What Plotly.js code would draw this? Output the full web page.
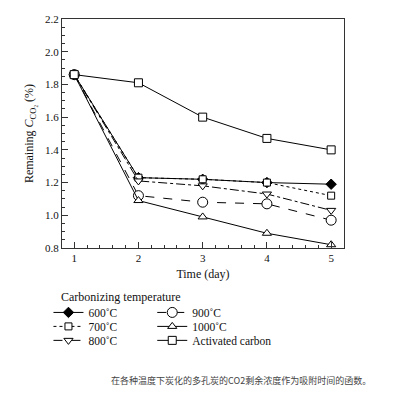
<!DOCTYPE html>
<html>
<head>
<meta charset="utf-8">
<script src="https://cdn.plot.ly/plotly-3.0.1.min.js"></script>
<style>html,body{margin:0;padding:0;background:#fff;}#chart{width:400px;height:394px;}</style>
</head>
<body>
<div id="chart"></div>
<script>
const days = [1, 2, 3, 4, 5];
const c600 = [1.86, 1.23, 1.22, 1.20, 1.19];
const c700 = [1.86, 1.23, 1.22, 1.20, 1.12];
const c800 = [1.86, 1.21, 1.18, 1.13, 1.03];
const c900 = [1.86, 1.12, 1.08, 1.07, 0.97];
const c1000 = [1.86, 1.09, 0.99, 0.89, 0.82];
const activated = [1.86, 1.81, 1.60, 1.47, 1.40];
const names = ['600˚C', '700˚C', '800˚C', '900˚C', '1000˚C', 'Activated carbon'];

const open = {color: '#fff', line: {color: '#000', width: 1}};
const traces = [
  {y: c600, name: names[0], legend: 'legend', line: {color: '#000', width: 1, dash: 'solid'},
   marker: {symbol: 'diamond', size: 8, color: '#000', line: {color: '#000', width: 1}}},
  {y: c700, name: names[1], legend: 'legend2', line: {color: '#000', width: 1, dash: 'dot'},
   marker: Object.assign({symbol: 'square', size: 7}, open)},
  {y: c800, name: names[2], legend: 'legend3', line: {color: '#000', width: 1, dash: 'dashdot'},
   marker: Object.assign({symbol: 'triangle-down', size: 8}, open)},
  {y: c900, name: names[3], legend: 'legend4', line: {color: '#000', width: 1, dash: 'dash'},
   marker: Object.assign({symbol: 'circle', size: 10}, open)},
  {y: c1000, name: names[4], legend: 'legend5', line: {color: '#000', width: 1, dash: 'solid'},
   marker: Object.assign({symbol: 'triangle-up', size: 8}, open)},
  {y: activated, name: names[5], legend: 'legend6', line: {color: '#000', width: 1, dash: 'solid'},
   marker: Object.assign({symbol: 'square', size: 8}, open)}
].map(t => Object.assign({x: days, type: 'scatter', mode: 'lines+markers', cliponaxis: false}, t));

const serif = "'Liberation Serif', 'Times New Roman', serif";
function leg(x, y) {
  return {
    orientation: 'v', x: x, y: y, xanchor: 'left', yanchor: 'top', itemwidth: 30, tracegroupgap: 0,
    font: {family: serif, size: 11.5, color: '#111'}, bgcolor: 'rgba(0,0,0,0)'
  };
}
const col1 = -0.048, col2 = 0.32;
const rows = [-0.218, -0.279, -0.340];
const layout = {
  width: 400, height: 394,
  margin: {l: 62, r: 56, t: 19, b: 146},
  paper_bgcolor: '#fff', plot_bgcolor: '#fff',
  font: {family: serif, size: 11, color: '#111'},
  showlegend: true,
  xaxis: {
    range: [0.81, 5.2], tickvals: days, ticks: 'inside', ticklen: 6, tickcolor: '#333',
    showline: true, linecolor: '#333', linewidth: 1, mirror: true, showgrid: false, zeroline: false,
    minor: {dtick: 0.2, tick0: 1, ticks: 'inside', ticklen: 3, tickcolor: '#333'},
    title: {text: 'Time (day)', font: {family: serif, size: 12}, standoff: 6}
  },
  yaxis: {
    range: [0.8, 2.2], dtick: 0.2, tickformat: '.1f', ticks: 'inside', ticklen: 6, tickcolor: '#333',
    showline: true, linecolor: '#333', linewidth: 1, mirror: true, showgrid: false, zeroline: false,
    minor: {dtick: 0.05, ticks: 'inside', ticklen: 3, tickcolor: '#333'},
    title: {text: 'Remaining <i>C</i><sub>CO₂</sub> (%)', font: {family: serif, size: 12}, standoff: 8}
  },
  legend: leg(col1, rows[0]),
  legend2: leg(col1, rows[1]),
  legend3: leg(col1, rows[2]),
  legend4: leg(col2, rows[0]),
  legend5: leg(col2, rows[1]),
  legend6: leg(col2, rows[2]),
  annotations: [{
    text: 'Carbonizing temperature',
    xref: 'paper', yref: 'paper', x: -0.011, y: -0.215, xanchor: 'left', yanchor: 'middle',
    showarrow: false, font: {family: serif, size: 12, color: '#111'}
  }, {
    text: '在各种温度下炭化的多孔炭的CO2剩余浓度作为吸附时间的函数。',
    xref: 'paper', yref: 'paper', x: 0.635, y: -0.577, xanchor: 'center', yanchor: 'middle',
    showarrow: false, font: {family: 'Noto Sans CJK SC', size: 9, color: '#444'}
  }]
};
Plotly.newPlot('chart', traces, layout, {displayModeBar: false, staticPlot: true});
</script>
</body>
</html>
